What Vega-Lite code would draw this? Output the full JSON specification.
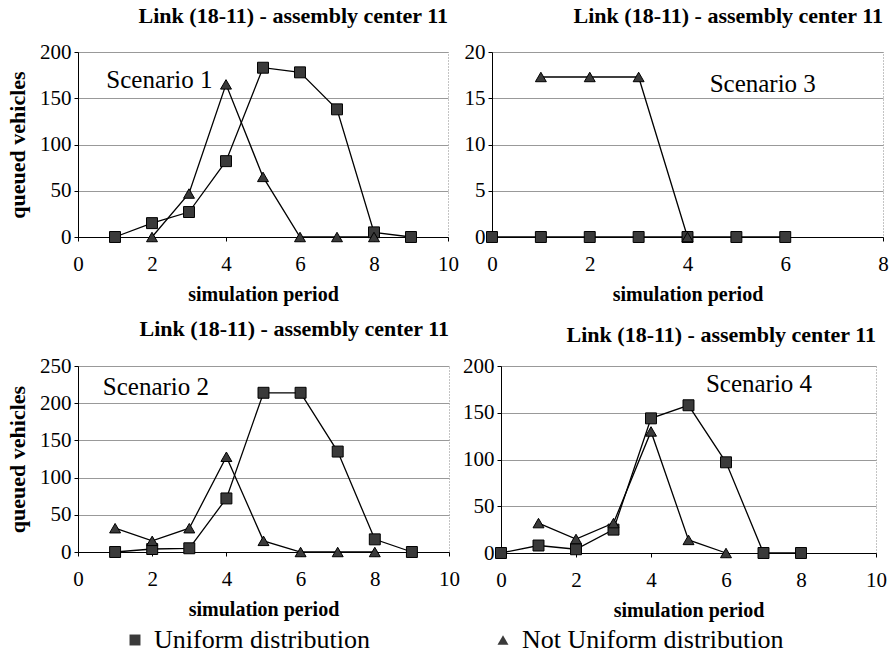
{
  "$schema": "https://vega.github.io/schema/vega-lite/v6.json",
  "padding": {"left": 6, "top": 4, "right": 0, "bottom": 0},
  "background": "white",
  "datasets": {
    "rows": [
      {"panel": "S1", "series": "Uniform distribution", "period": 1, "value": 0},
      {"panel": "S1", "series": "Uniform distribution", "period": 2, "value": 15},
      {"panel": "S1", "series": "Uniform distribution", "period": 3, "value": 27},
      {"panel": "S1", "series": "Uniform distribution", "period": 4, "value": 82},
      {"panel": "S1", "series": "Uniform distribution", "period": 5, "value": 183},
      {"panel": "S1", "series": "Uniform distribution", "period": 6, "value": 178},
      {"panel": "S1", "series": "Uniform distribution", "period": 7, "value": 138},
      {"panel": "S1", "series": "Uniform distribution", "period": 8, "value": 5},
      {"panel": "S1", "series": "Uniform distribution", "period": 9, "value": 0},
      {"panel": "S1", "series": "Not Uniform distribution", "period": 2, "value": 0},
      {"panel": "S1", "series": "Not Uniform distribution", "period": 3, "value": 47},
      {"panel": "S1", "series": "Not Uniform distribution", "period": 4, "value": 165},
      {"panel": "S1", "series": "Not Uniform distribution", "period": 5, "value": 65},
      {"panel": "S1", "series": "Not Uniform distribution", "period": 6, "value": 0},
      {"panel": "S1", "series": "Not Uniform distribution", "period": 7, "value": 0},
      {"panel": "S1", "series": "Not Uniform distribution", "period": 8, "value": 0},
      {"panel": "S3", "series": "Uniform distribution", "period": 0, "value": 0},
      {"panel": "S3", "series": "Uniform distribution", "period": 1, "value": 0},
      {"panel": "S3", "series": "Uniform distribution", "period": 2, "value": 0},
      {"panel": "S3", "series": "Uniform distribution", "period": 3, "value": 0},
      {"panel": "S3", "series": "Uniform distribution", "period": 4, "value": 0},
      {"panel": "S3", "series": "Uniform distribution", "period": 5, "value": 0},
      {"panel": "S3", "series": "Uniform distribution", "period": 6, "value": 0},
      {"panel": "S3", "series": "Not Uniform distribution", "period": 1, "value": 17.3},
      {"panel": "S3", "series": "Not Uniform distribution", "period": 2, "value": 17.3},
      {"panel": "S3", "series": "Not Uniform distribution", "period": 3, "value": 17.3},
      {"panel": "S3", "series": "Not Uniform distribution", "period": 4, "value": 0},
      {"panel": "S2", "series": "Uniform distribution", "period": 1, "value": 0},
      {"panel": "S2", "series": "Uniform distribution", "period": 2, "value": 4},
      {"panel": "S2", "series": "Uniform distribution", "period": 3, "value": 5},
      {"panel": "S2", "series": "Uniform distribution", "period": 4, "value": 72},
      {"panel": "S2", "series": "Uniform distribution", "period": 5, "value": 214},
      {"panel": "S2", "series": "Uniform distribution", "period": 6, "value": 214},
      {"panel": "S2", "series": "Uniform distribution", "period": 7, "value": 135},
      {"panel": "S2", "series": "Uniform distribution", "period": 8, "value": 17},
      {"panel": "S2", "series": "Uniform distribution", "period": 9, "value": 0},
      {"panel": "S2", "series": "Not Uniform distribution", "period": 1, "value": 32},
      {"panel": "S2", "series": "Not Uniform distribution", "period": 2, "value": 15},
      {"panel": "S2", "series": "Not Uniform distribution", "period": 3, "value": 32},
      {"panel": "S2", "series": "Not Uniform distribution", "period": 4, "value": 128},
      {"panel": "S2", "series": "Not Uniform distribution", "period": 5, "value": 15},
      {"panel": "S2", "series": "Not Uniform distribution", "period": 6, "value": 0},
      {"panel": "S2", "series": "Not Uniform distribution", "period": 7, "value": 0},
      {"panel": "S2", "series": "Not Uniform distribution", "period": 8, "value": 0},
      {"panel": "S4", "series": "Uniform distribution", "period": 0, "value": 0},
      {"panel": "S4", "series": "Uniform distribution", "period": 1, "value": 8},
      {"panel": "S4", "series": "Uniform distribution", "period": 2, "value": 4},
      {"panel": "S4", "series": "Uniform distribution", "period": 3, "value": 25},
      {"panel": "S4", "series": "Uniform distribution", "period": 4, "value": 144},
      {"panel": "S4", "series": "Uniform distribution", "period": 5, "value": 158},
      {"panel": "S4", "series": "Uniform distribution", "period": 6, "value": 97},
      {"panel": "S4", "series": "Uniform distribution", "period": 7, "value": 0},
      {"panel": "S4", "series": "Uniform distribution", "period": 8, "value": 0},
      {"panel": "S4", "series": "Not Uniform distribution", "period": 1, "value": 32},
      {"panel": "S4", "series": "Not Uniform distribution", "period": 2, "value": 15},
      {"panel": "S4", "series": "Not Uniform distribution", "period": 3, "value": 32},
      {"panel": "S4", "series": "Not Uniform distribution", "period": 4, "value": 130},
      {"panel": "S4", "series": "Not Uniform distribution", "period": 5, "value": 14},
      {"panel": "S4", "series": "Not Uniform distribution", "period": 6, "value": 0}
    ]
  },
  "config": {
    "font": "Liberation Serif",
    "view": {"stroke": "#888", "strokeDash": [1, 2], "strokeWidth": 1},
    "axis": {
      "labelFont": "Liberation Serif", "labelFontSize": 21, "labelColor": "black",
      "titleFont": "Liberation Serif", "titleFontWeight": "bold", "titleFontSize": 22, "titleColor": "black",
      "domainColor": "black", "domainWidth": 1, "tickColor": "black", "tickSize": 4,
      "gridColor": "#999", "labelFlush": false, "labelOverlap": false
    },
    "axisX": {"grid": false, "labelPadding": 12, "titlePadding": 10, "titleFontSize": 20},
    "axisY": {"grid": true, "labelPadding": 3, "titlePadding": 10},
    "title": {"font": "Liberation Serif", "fontSize": 22, "fontWeight": "bold", "anchor": "end", "frame": "group", "offset": 13, "color": "black"},
    "legend": {"labelFont": "Liberation Serif", "labelFontSize": 26, "labelColor": "black", "labelLimit": 0}
  },
  "bounds": "flush",
  "spacing": 314,
  "vconcat": [
    {
      "bounds": "flush",
      "spacing": 44,
      "hconcat": [
        {
          "width": 370, "height": 185,
          "title": "Link (18-11) - assembly center 11",
          "layer": [
            {"data": {"name": "rows"}, "transform": [{"filter": "datum.panel == 'S1'"}],
             "mark": {"type": "line", "color": "black", "strokeWidth": 1.3},
             "encoding": {
               "x": {"field": "period", "type": "quantitative", "scale": {"domain": [0, 10]}, "axis": {"values": [0, 2, 4, 6, 8, 10], "title": "simulation period"}},
               "y": {"field": "value", "type": "quantitative", "scale": {"domain": [0, 200]}, "axis": {"values": [0, 50, 100, 150, 200], "title": "queued vehicles"}},
               "detail": {"field": "series"}
             }},
            {"data": {"name": "rows"}, "transform": [{"filter": "datum.panel == 'S1'"}],
             "mark": {"type": "point", "filled": true, "size": 120, "fill": "#3a3a3a", "stroke": "black", "strokeWidth": 1, "opacity": 1},
             "encoding": {
               "x": {"field": "period", "type": "quantitative", "scale": {"domain": [0, 10]}, "axis": {"values": [0, 2, 4, 6, 8, 10], "title": "simulation period"}},
               "y": {"field": "value", "type": "quantitative", "scale": {"domain": [0, 200]}, "axis": {"values": [0, 50, 100, 150, 200], "title": "queued vehicles"}},
               "shape": {"field": "series", "type": "nominal", "scale": {"domain": ["Uniform distribution", "Not Uniform distribution"], "range": ["square", "triangle-up"]},
                 "legend": {"title": null, "orient": "none", "legendX": 44, "legendY": 575, "direction": "horizontal", "columnPadding": 120, "symbolSize": 120, "symbolFillColor": "#3a3a3a", "symbolStrokeColor": "black", "labelOffset": 6}}
             }},
            {"data": {"values": [{"label": "Scenario 1"}]},
             "mark": {"type": "text", "fontSize": 25, "font": "Liberation Serif", "color": "black"},
             "encoding": {
               "x": {"datum": 2.2, "type": "quantitative", "scale": {"domain": [0, 10]}, "axis": {"values": [0, 2, 4, 6, 8, 10], "title": "simulation period"}},
               "y": {"datum": 170, "type": "quantitative", "scale": {"domain": [0, 200]}, "axis": {"values": [0, 50, 100, 150, 200], "title": "queued vehicles"}},
               "text": {"field": "label"}}}
          ]
        },
        {
          "width": 391, "height": 185,
          "title": "Link (18-11) - assembly center 11",
          "layer": [
            {"data": {"name": "rows"}, "transform": [{"filter": "datum.panel == 'S3'"}],
             "mark": {"type": "line", "color": "black", "strokeWidth": 1.3},
             "encoding": {
               "x": {"field": "period", "type": "quantitative", "scale": {"domain": [0, 8]}, "axis": {"values": [0, 2, 4, 6, 8], "title": "simulation period"}},
               "y": {"field": "value", "type": "quantitative", "scale": {"domain": [0, 20]}, "axis": {"values": [0, 5, 10, 15, 20], "title": null}},
               "detail": {"field": "series"}
             }},
            {"data": {"name": "rows"}, "transform": [{"filter": "datum.panel == 'S3'"}],
             "mark": {"type": "point", "filled": true, "size": 120, "fill": "#3a3a3a", "stroke": "black", "strokeWidth": 1, "opacity": 1},
             "encoding": {
               "x": {"field": "period", "type": "quantitative", "scale": {"domain": [0, 8]}, "axis": {"values": [0, 2, 4, 6, 8], "title": "simulation period"}},
               "y": {"field": "value", "type": "quantitative", "scale": {"domain": [0, 20]}, "axis": {"values": [0, 5, 10, 15, 20], "title": null}},
               "shape": {"field": "series", "type": "nominal"}
             }},
            {"data": {"values": [{"label": "Scenario 3"}]},
             "mark": {"type": "text", "fontSize": 25, "font": "Liberation Serif", "color": "black"},
             "encoding": {
               "x": {"datum": 5.54, "type": "quantitative", "scale": {"domain": [0, 8]}, "axis": {"values": [0, 2, 4, 6, 8], "title": "simulation period"}},
               "y": {"datum": 16.5, "type": "quantitative", "scale": {"domain": [0, 20]}, "axis": {"values": [0, 5, 10, 15, 20], "title": null}},
               "text": {"field": "label"}}}
          ]
        }
      ]
    },
    {
      "bounds": "flush",
      "spacing": 52,
      "hconcat": [
        {
          "width": 371, "height": 186,
          "title": {"text": "Link (18-11) - assembly center 11", "offset": 14},
          "layer": [
            {"data": {"name": "rows"}, "transform": [{"filter": "datum.panel == 'S2'"}],
             "mark": {"type": "line", "color": "black", "strokeWidth": 1.3},
             "encoding": {
               "x": {"field": "period", "type": "quantitative", "scale": {"domain": [0, 10]}, "axis": {"values": [0, 2, 4, 6, 8, 10], "title": "simulation period"}},
               "y": {"field": "value", "type": "quantitative", "scale": {"domain": [0, 250]}, "axis": {"values": [0, 50, 100, 150, 200, 250], "title": "queued vehicles"}},
               "detail": {"field": "series"}
             }},
            {"data": {"name": "rows"}, "transform": [{"filter": "datum.panel == 'S2'"}],
             "mark": {"type": "point", "filled": true, "size": 120, "fill": "#3a3a3a", "stroke": "black", "strokeWidth": 1, "opacity": 1},
             "encoding": {
               "x": {"field": "period", "type": "quantitative", "scale": {"domain": [0, 10]}, "axis": {"values": [0, 2, 4, 6, 8, 10], "title": "simulation period"}},
               "y": {"field": "value", "type": "quantitative", "scale": {"domain": [0, 250]}, "axis": {"values": [0, 50, 100, 150, 200, 250], "title": "queued vehicles"}},
               "shape": {"field": "series", "type": "nominal"}
             }},
            {"data": {"values": [{"label": "Scenario 2"}]},
             "mark": {"type": "text", "fontSize": 25, "font": "Liberation Serif", "color": "black"},
             "encoding": {
               "x": {"datum": 2.1, "type": "quantitative", "scale": {"domain": [0, 10]}, "axis": {"values": [0, 2, 4, 6, 8, 10], "title": "simulation period"}},
               "y": {"datum": 222, "type": "quantitative", "scale": {"domain": [0, 250]}, "axis": {"values": [0, 50, 100, 150, 200, 250], "title": "queued vehicles"}},
               "text": {"field": "label"}}}
          ]
        },
        {
          "width": 375, "height": 187,
          "title": {"text": "Link (18-11) - assembly center 11", "offset": 8},
          "layer": [
            {"data": {"name": "rows"}, "transform": [{"filter": "datum.panel == 'S4'"}],
             "mark": {"type": "line", "color": "black", "strokeWidth": 1.3},
             "encoding": {
               "x": {"field": "period", "type": "quantitative", "scale": {"domain": [0, 10]}, "axis": {"values": [0, 2, 4, 6, 8, 10], "title": "simulation period"}},
               "y": {"field": "value", "type": "quantitative", "scale": {"domain": [0, 200]}, "axis": {"values": [0, 50, 100, 150, 200], "title": null}},
               "detail": {"field": "series"}
             }},
            {"data": {"name": "rows"}, "transform": [{"filter": "datum.panel == 'S4'"}],
             "mark": {"type": "point", "filled": true, "size": 120, "fill": "#3a3a3a", "stroke": "black", "strokeWidth": 1, "opacity": 1},
             "encoding": {
               "x": {"field": "period", "type": "quantitative", "scale": {"domain": [0, 10]}, "axis": {"values": [0, 2, 4, 6, 8, 10], "title": "simulation period"}},
               "y": {"field": "value", "type": "quantitative", "scale": {"domain": [0, 200]}, "axis": {"values": [0, 50, 100, 150, 200], "title": null}},
               "shape": {"field": "series", "type": "nominal"}
             }},
            {"data": {"values": [{"label": "Scenario 4"}]},
             "mark": {"type": "text", "fontSize": 25, "font": "Liberation Serif", "color": "black"},
             "encoding": {
               "x": {"datum": 6.88, "type": "quantitative", "scale": {"domain": [0, 10]}, "axis": {"values": [0, 2, 4, 6, 8, 10], "title": "simulation period"}},
               "y": {"datum": 181, "type": "quantitative", "scale": {"domain": [0, 200]}, "axis": {"values": [0, 50, 100, 150, 200], "title": null}},
               "text": {"field": "label"}}}
          ]
        }
      ]
    }
  ]
}
